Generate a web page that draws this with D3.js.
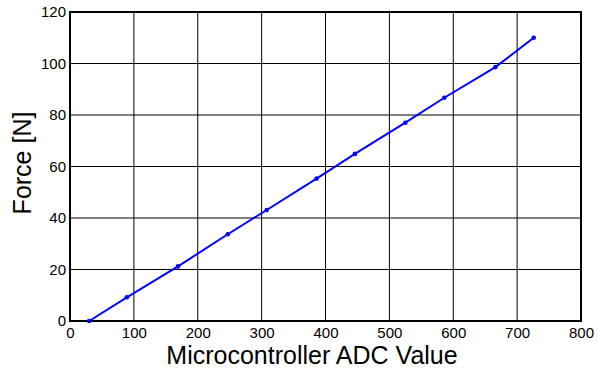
<!DOCTYPE html>
<html>
<head>
<meta charset="utf-8">
<script src="https://cdn.jsdelivr.net/npm/d3@7"></script>
<style>
  body { margin: 0; background: #fff; }
</style>
</head>
<body>
<div id="chart"></div>
<script>
// measured ADC readings and the matching force
var adcValues = [30, 89, 169, 247, 308, 386, 446, 525, 586, 666, 726];
var forceValues = [0, 9.2, 21.2, 33.7, 43.1, 55.3, 64.9, 77.0, 86.7, 98.6, 110.0];
var xTicks = [0, 100, 200, 300, 400, 500, 600, 700, 800];
var yTicks = [0, 20, 40, 60, 80, 100, 120];

var FONT = "'Liberation Sans', Arial, Helvetica, sans-serif";
var width = 598, height = 371;
var margin = {top: 12, right: 17, bottom: 50, left: 70};

var svg = d3.select("#chart")
  .append("svg")
  .attr("width", width)
  .attr("height", height);

var x = d3.scaleLinear()
  .domain([0, 800])
  .range([margin.left, width - margin.right]);

var y = d3.scaleLinear()
  .domain([0, 120])
  .range([height - margin.bottom, margin.top]);

// grid
svg.append("g")
  .selectAll("line")
  .data(xTicks)
  .enter()
  .append("line")
  .attr("x1", function(d) { return x(d); })
  .attr("x2", function(d) { return x(d); })
  .attr("y1", y(0))
  .attr("y2", y(120))
  .attr("stroke", "#000")
  .attr("stroke-width", 1);

svg.append("g")
  .selectAll("line")
  .data(yTicks)
  .enter()
  .append("line")
  .attr("x1", x(0))
  .attr("x2", x(800))
  .attr("y1", function(d) { return y(d); })
  .attr("y2", function(d) { return y(d); })
  .attr("stroke", "#000")
  .attr("stroke-width", 1);

// axes (labels only, ticks hidden under grid)
var xAxis = svg.append("g")
  .attr("transform", "translate(0," + y(0) + ")")
  .call(d3.axisBottom(x).tickValues(xTicks).tickSize(0).tickPadding(6));
xAxis.select(".domain").remove();
xAxis.selectAll("text")
  .style("font-family", FONT)
  .style("font-size", "15px")
  .attr("fill", "#000");

var yAxis = svg.append("g")
  .attr("transform", "translate(" + (x(0) - 4) + ",0)")
  .call(d3.axisLeft(y).tickValues(yTicks).tickSize(0).tickPadding(0));
yAxis.select(".domain").remove();
yAxis.selectAll("text")
  .style("font-family", FONT)
  .style("font-size", "15px")
  .attr("fill", "#000");

// frame
svg.append("rect")
  .attr("x", x(0))
  .attr("y", y(120))
  .attr("width", x(800) - x(0))
  .attr("height", y(0) - y(120))
  .attr("fill", "none")
  .attr("stroke", "#000")
  .attr("stroke-width", 2);

// data line
var line = d3.line()
  .x(function(d, i) { return x(adcValues[i]); })
  .y(function(d) { return y(d); });

svg.append("path")
  .datum(forceValues)
  .attr("d", line)
  .attr("fill", "none")
  .attr("stroke", "#0000ff")
  .attr("stroke-width", 2);

svg.selectAll("circle.pt")
  .data(forceValues)
  .enter()
  .append("circle")
  .attr("class", "pt")
  .attr("cx", function(d, i) { return x(adcValues[i]); })
  .attr("cy", function(d) { return y(d); })
  .attr("r", 2.3)
  .attr("fill", "#0000ff");

// axis titles
svg.append("text")
  .attr("x", 312)
  .attr("y", 364)
  .attr("text-anchor", "middle")
  .style("font-family", FONT)
  .style("font-size", "25px")
  .text("Microcontroller ADC Value");

svg.append("text")
  .attr("transform", "translate(31,163) rotate(-90)")
  .attr("text-anchor", "middle")
  .style("font-family", FONT)
  .style("font-size", "25px")
  .text("Force [N]");
</script>
</body>
</html>
